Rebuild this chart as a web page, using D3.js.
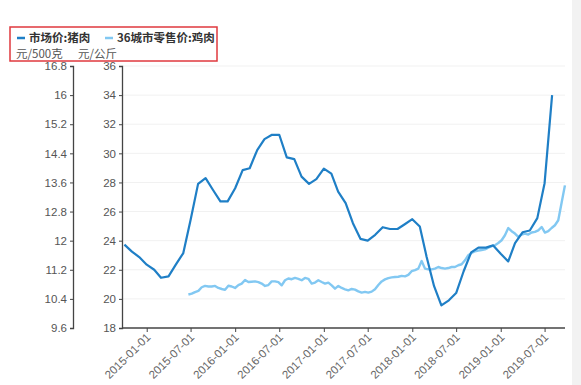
<!DOCTYPE html>
<html>
<head>
<meta charset="utf-8">
<script src="https://cdn.jsdelivr.net/npm/d3@7"></script>
<style>
  body { margin: 0; background: #fff; }
  svg { display: block; font-family: "Noto Sans CJK SC", "Noto Sans", sans-serif; }
</style>
</head>
<body>
<svg id="chart" width="581" height="385"></svg>
<script>
// pork: monthly market price (元/500克), from 2014-10
const porkStart = '2014-10-01'
const porkValues = [
  11.89, 11.70, 11.55, 11.34, 11.20, 10.98, 11.02, 11.34, 11.66, 12.57,
  13.56, 13.72, 13.40, 13.08, 13.08, 13.44, 13.94, 13.99, 14.49, 14.79,
  14.91, 14.91, 14.29, 14.24, 13.76, 13.56, 13.69, 13.98, 13.84, 13.35,
  13.03, 12.48, 12.05, 12.00, 12.16, 12.37, 12.32, 12.32, 12.45, 12.59,
  12.39, 11.56, 10.75, 10.22, 10.36, 10.56, 11.16, 11.68, 11.81, 11.81,
  11.87, 11.64, 11.43, 11.93, 12.23, 12.28, 12.62, 13.58, 16.00
]

// chicken: 36-city retail price (元/公斤), roughly biweekly readings
const chickenRange = ['2015-06-22', '2019-09-23']
const chickenValues = [
  20.30, 20.36, 20.47, 20.55, 20.80, 20.89, 20.85, 20.85, 20.89, 20.75,
  20.68, 20.62, 20.90, 20.85, 20.75, 20.95, 21.05, 21.30, 21.16, 21.18,
  21.20, 21.15, 21.05, 20.89, 20.95, 21.20, 21.20, 21.15,
  20.93, 21.28, 21.40, 21.35, 21.44, 21.38, 21.28, 21.44, 21.38, 21.05,
  21.12, 21.28, 21.16, 21.05, 21.12, 20.93, 20.70, 20.89, 20.75, 20.66,
  20.59, 20.68, 20.64, 20.52, 20.43, 20.48, 20.43, 20.50, 20.66,
  20.95, 21.20, 21.34, 21.43, 21.48, 21.50, 21.52, 21.58, 21.55, 21.65,
  21.90, 21.98, 22.08, 22.60, 22.08, 22.03, 22.03, 22.08, 22.19, 22.12,
  22.08, 22.12, 22.19, 22.19, 22.31, 22.38, 22.65, 23.00,
  23.15, 23.27, 23.32, 23.36, 23.40, 23.52, 23.62, 23.68, 23.84, 24.03,
  24.37, 24.87, 24.65, 24.49, 24.26, 24.42, 24.49, 24.42, 24.56, 24.60,
  24.71, 24.94, 24.56, 24.65, 24.87, 25.06, 25.40, 26.60, 27.80
]

const leftTicks = [9.6, 10.4, 11.2, 12, 12.8, 13.6, 14.4, 15.2, 16, 16.8]
const rightTicks = [18, 20, 22, 24, 26, 28, 30, 32, 34, 36]
const dateTicks = ['2015-01-01', '2015-07-01', '2016-01-01', '2016-07-01', '2017-01-01',
                   '2017-07-01', '2018-01-01', '2018-07-01', '2019-01-01', '2019-07-01']
const seriesNames = ['市场价:猪肉', '36城市零售价:鸡肉']
const unitNames = ['元/500克', '元/公斤']

const parse = d3.timeParse('%Y-%m-%d')
const colors = ['#1f7fc6', '#82c8f2']

let porkData = porkValues.map((v, i) => ({date: d3.timeMonth.offset(parse(porkStart), i), value: v}))

let cStart = parse(chickenRange[0]), cEnd = parse(chickenRange[1])
let cStep = (cEnd - cStart) / (chickenValues.length - 1)
let chickenData = chickenValues.map((v, i) => ({date: new Date(+cStart + i * cStep), value: v}))

let svg = d3.select('#chart')

svg.append('rect').attr('x', 572).attr('y', 0).attr('width', 9).attr('height', 385).attr('fill', '#f2f2f2')

let plotTop = 66, plotBottom = 328, xLeft = 122, xRight = 565

let x = d3.scaleTime().domain([parse('2014-09-21'), parse('2019-09-15')]).range([xLeft, 563])
let yPork = d3.scaleLinear().domain([9.6, 16.8]).range([plotBottom, plotTop])
let yChicken = d3.scaleLinear().domain([18, 36]).range([plotBottom, plotTop])

// grid
svg.append('g')
   .selectAll('line')
   .data(rightTicks.slice(1))
   .enter()
   .append('line')
     .attr('x1', xLeft).attr('x2', xRight)
     .attr('y1', d => yChicken(d)).attr('y2', d => yChicken(d))
     .attr('stroke', '#f1f1f1')

let styleAxis = g => {
    g.select('.domain').attr('stroke', '#444').attr('stroke-width', 1.3)
    g.selectAll('.tick line').attr('stroke', '#444')
    g.selectAll('.tick text').attr('fill', '#555').style('font-size', '11.5px')
}

svg.append('g')
   .attr('transform', 'translate(73,0)')
   .call(d3.axisLeft(yPork).tickValues(leftTicks).tickSize(3).tickSizeOuter(3).tickFormat(d3.format('.1~f')))
   .call(styleAxis)

svg.append('g')
   .attr('transform', 'translate(' + xLeft + ',0)')
   .call(d3.axisLeft(yChicken).tickValues(rightTicks).tickSize(3).tickSizeOuter(3))
   .call(styleAxis)

let xAxisG = svg.append('g')
   .attr('transform', 'translate(0,' + plotBottom + ')')
   .call(d3.axisBottom(x).tickValues(dateTicks.map(parse)).tickSize(4).tickSizeOuter(0).tickFormat(d3.timeFormat('%Y-%m-%d')))
   .call(styleAxis)
xAxisG.select('.domain').attr('d', 'M' + xLeft + ',0H' + xRight)
xAxisG.selectAll('.tick text')
   .attr('text-anchor', 'end')
   .attr('dy', 0)
   .attr('fill', '#666')
   .attr('transform', 'translate(-1,5) rotate(-45)')

// lines
svg.append('path')
   .datum(chickenData)
   .attr('fill', 'none')
   .attr('stroke', colors[1])
   .attr('stroke-width', 2.4)
   .attr('stroke-linejoin', 'round')
   .attr('d', d3.line().x(d => x(d.date)).y(d => yChicken(d.value)))

svg.append('path')
   .datum(porkData)
   .attr('fill', 'none')
   .attr('stroke', colors[0])
   .attr('stroke-width', 2.2)
   .attr('stroke-linejoin', 'round')
   .attr('d', d3.line().x(d => x(d.date)).y(d => yPork(d.value)))

// legend
svg.append('rect')
   .attr('x', 10).attr('y', 27).attr('width', 207).attr('height', 34)
   .attr('fill', 'none').attr('stroke', '#e0393e').attr('stroke-width', 1.5)

let legendX = [17, 105]
seriesNames.forEach((name, i) => {
    svg.append('line')
       .attr('x1', legendX[i]).attr('x2', legendX[i] + 8)
       .attr('y1', 38).attr('y2', 38)
       .attr('stroke', colors[i]).attr('stroke-width', 2.5)
    svg.append('text')
       .attr('x', legendX[i] + 12).attr('y', 42)
       .attr('fill', '#333').style('font-size', '11.5px').style('font-weight', 'bold')
       .text(name)
})

let unitX = [16, 78]
unitNames.forEach((u, i) => {
    svg.append('text')
       .attr('x', unitX[i]).attr('y', 57.5)
       .attr('fill', '#555').style('font-size', '11.5px')
       .text(u)
})
</script>
</body>
</html>
